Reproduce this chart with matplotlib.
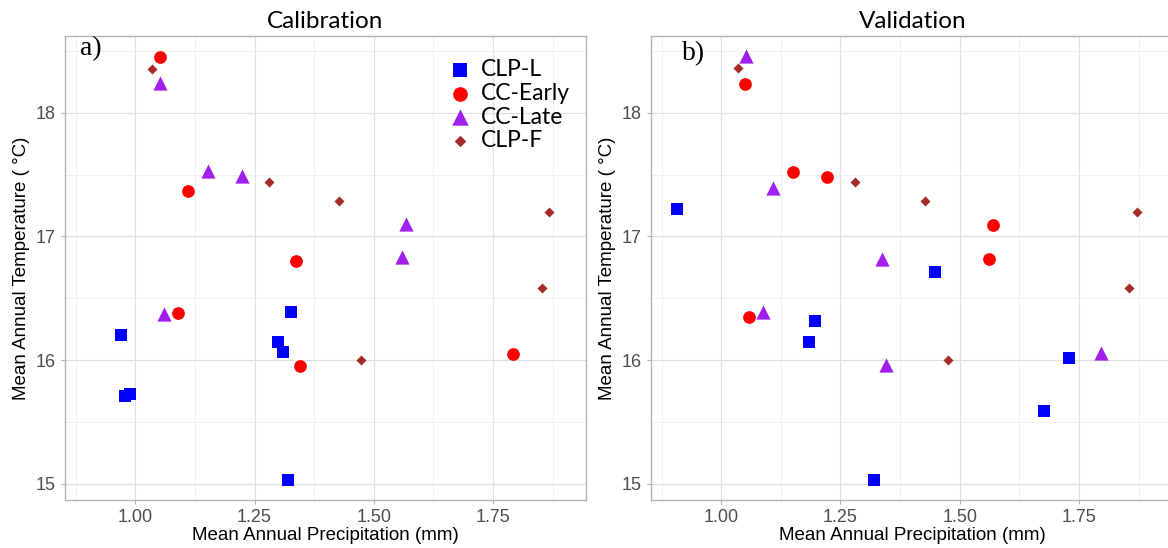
import matplotlib
matplotlib.use('Agg')
import matplotlib.pyplot as plt
import numpy as np

# Calibration set: mean annual precipitation (mm) / temperature (C)
cal_clpl_x = [0.969, 0.979, 0.988, 1.327, 1.300, 1.309, 1.321]
cal_clpl_y = [16.20, 15.71, 15.73, 16.39, 16.15, 16.07, 15.03]
cal_early_x = [1.052, 1.110, 1.336, 1.089, 1.345, 1.793]
cal_early_y = [18.45, 17.37, 16.80, 16.38, 15.95, 16.05]
cal_late_x = [1.052, 1.152, 1.223, 1.567, 1.559, 1.060]
cal_late_y = [18.24, 17.53, 17.49, 17.10, 16.83, 16.37]
cal_clpf_x = [1.036, 1.281, 1.427, 1.868, 1.852, 1.474]
cal_clpf_y = [18.35, 17.44, 17.29, 17.20, 16.58, 16.00]

# Validation set
val_clpl_x = [0.907, 1.449, 1.196, 1.185, 1.729, 1.677, 1.321]
val_clpl_y = [17.22, 16.71, 16.32, 16.15, 16.02, 15.59, 15.03]
val_early_x = [1.049, 1.151, 1.222, 1.569, 1.561, 1.059]
val_early_y = [18.23, 17.52, 17.48, 17.09, 16.82, 16.35]
val_late_x = [1.051, 1.109, 1.337, 1.088, 1.346, 1.795]
val_late_y = [18.46, 17.39, 16.82, 16.39, 15.96, 16.06]
val_clpf_x = [1.035, 1.281, 1.427, 1.871, 1.855, 1.475]
val_clpf_y = [18.36, 17.44, 17.29, 17.20, 16.58, 16.00]

groups = ['CLP-L', 'CC-Early', 'CC-Late', 'CLP-F']
colors = ['#0000FF', '#FF0000', '#A020F0', '#A52A2A']
markers = ['s', 'o', '^', 'D']
sizes = [74, 84, 105, 26]

panels = [
    ('Calibration', 'a)', [(cal_clpl_x, cal_clpl_y), (cal_early_x, cal_early_y),
                           (cal_late_x, cal_late_y), (cal_clpf_x, cal_clpf_y)]),
    ('Validation', 'b)', [(val_clpl_x, val_clpl_y), (val_early_x, val_early_y),
                          (val_late_x, val_late_y), (val_clpf_x, val_clpf_y)]),
]

fig = plt.figure(figsize=(11.68, 5.48), dpi=100)
# second panel runs slightly past the right edge of the figure
axes = [fig.add_axes([0.0554, 0.0876, 0.4463, 0.8467]),
        fig.add_axes([0.5570, 0.0876, 0.4490, 0.8467])]
xmax = [1.945, 1.951]

for i, (ax, (title, tag, data)) in enumerate(zip(axes, panels)):
    for (x, y), g, c, m, s in zip(data, groups, colors, markers, sizes):
        ax.scatter(x, y, s=s, c=c, marker=m, linewidths=0, label=g, zorder=3)

    ax.set_xlim(0.852, xmax[i])
    ax.set_ylim(14.87, 18.62)
    ax.set_xticks([1.0, 1.25, 1.5, 1.75])
    ax.set_xticklabels(['1.00', '1.25', '1.50', '1.75'])
    ax.set_yticks([15, 16, 17, 18])
    ax.set_xticks(np.arange(0.875, 1.95, 0.25), minor=True)
    ax.set_yticks([15.5, 16.5, 17.5, 18.5], minor=True)
    ax.grid(which='major', color='#E0E0E0', linewidth=0.9, zorder=0)
    ax.grid(which='minor', color='#EEEEEE', linewidth=0.6, zorder=0)
    ax.set_axisbelow(True)
    for sp in ax.spines.values():
        sp.set_color('#B3B3B3')
        sp.set_linewidth(1.0)
    ax.tick_params(which='major', length=3, color='#B3B3B3',
                   labelcolor='#4D4D4D', labelsize=13)
    ax.tick_params(which='minor', length=0)
    for lab in ax.get_xticklabels() + ax.get_yticklabels():
        lab.set_family('Liberation Sans')

    ax.set_title(title, family='Lato', fontsize=17.5, pad=6)
    ax.set_xlabel('Mean Annual Precipitation (mm)', family='Liberation Sans',
                  fontsize=13.5, labelpad=1)
    ax.set_ylabel('Mean Annual Temperature ( \u00b0C)', family='Liberation Sans',
                  fontsize=13.5, labelpad=4)

    tx = 0.03 if i == 0 else 0.059
    ty = 0.972 if i == 0 else 0.963
    ax.text(tx, ty, tag, transform=ax.transAxes, family='Liberation Serif',
            fontsize=20, va='center', ha='left')

leg = axes[0].legend(loc='upper right', bbox_to_anchor=(1.0, 0.985), frameon=False,
                     prop={'family': 'Lato', 'size': 16.5}, handletextpad=-0.1,
                     labelspacing=0.12, borderaxespad=0.3, markerscale=1.15)

fig.savefig('out.png', dpi=100)
